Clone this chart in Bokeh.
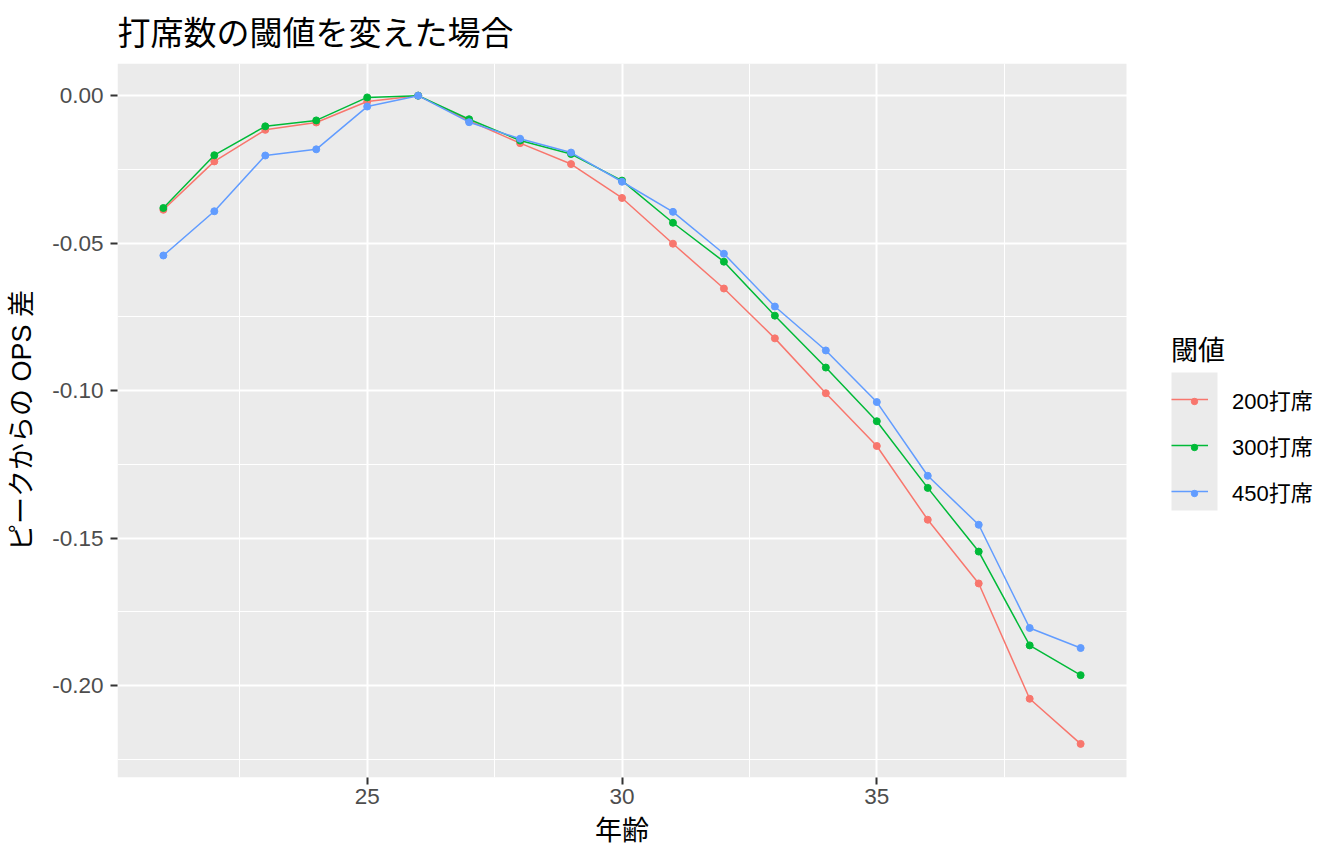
from bokeh.plotting import figure
from bokeh.models import (Range1d, FixedTicker, Legend, LegendItem, BoxAnnotation, Title)
from bokeh.embed import file_html
from bokeh.resources import INLINE

ages = list(range(21, 40))
pa200 = [-0.0387, -0.0223, -0.0116, -0.0091, -0.0020, 0.0, -0.0085, -0.0161, -0.0232, -0.0347,
         -0.0502, -0.0654, -0.0823, -0.1009, -0.1188, -0.1438, -0.1654, -0.2045, -0.2198]
pa300 = [-0.0381, -0.0202, -0.0104, -0.0084, -0.0006, 0.0, -0.0080, -0.0152, -0.0198, -0.0288,
         -0.0431, -0.0563, -0.0746, -0.0922, -0.1104, -0.1330, -0.1546, -0.1864, -0.1965]
pa450 = [-0.0542, -0.0392, -0.0203, -0.0182, -0.0037, 0.0, -0.0090, -0.0146, -0.0193, -0.0292,
         -0.0394, -0.0536, -0.0715, -0.0864, -0.1039, -0.1289, -0.1455, -0.1805, -0.1873]
series_labels = ["200打席", "300打席", "450打席"]
series_colors = ["#F8766D", "#00BA38", "#619CFF"]

x_ticks = [25, 30, 35]
x_minor = [22.5, 27.5, 32.5, 37.5]
y_ticks = [0.0, -0.05, -0.10, -0.15, -0.20]
y_tick_labels = ["0.00", "-0.05", "-0.10", "-0.15", "-0.20"]
y_minor = [-0.025, -0.075, -0.125, -0.175, -0.225]

title_text = "打席数の閾値を変えた場合"
x_label = "年齢"
y_label = "ピークからの OPS 差"
legend_title = "閾値"

JP = "Noto Sans CJK JP"
MIX = "Liberation Sans, Noto Sans CJK JP"

# layout (pixels)
W, H = 1328, 860
LEFT, TOP = 117, 62
PANEL_W, PANEL_H = 1009, 715
RIGHT = 10
FRAME_BOTTOM = TOP + PANEL_H
BOTTOM = H - FRAME_BOTTOM

# panel data extent (ggplot-like 5% expansion)
x0, x1 = 20.1, 39.9
y0, y1 = -0.2312, 0.0109
frame_w = W - LEFT - RIGHT
x_end = x0 + frame_w * (x1 - x0) / PANEL_W

p = figure(width=W, height=H, output_backend="svg", toolbar_location=None,
           x_range=Range1d(x0, x_end), y_range=Range1d(y0, y1),
           min_border_left=LEFT, min_border_right=RIGHT, min_border_top=TOP,
           min_border_bottom=BOTTOM)

p.background_fill_color = "white"
p.border_fill_color = "white"
p.outline_line_color = None

# grey panel background
p.add_layout(BoxAnnotation(left=x0, right=x1, fill_color="#EBEBEB", fill_alpha=1,
                           line_color=None, level="image"))

p.title.text = title_text
p.title.text_font = JP
p.title.text_font_size = "33px"
p.title.text_font_style = "normal"
p.title.text_color = "black"
p.title.align = "left"
p.title.vertical_align = "top"
p.title.standoff = 13

p.xaxis.ticker = FixedTicker(ticks=x_ticks, minor_ticks=x_minor)
p.yaxis.ticker = FixedTicker(ticks=y_ticks, minor_ticks=y_minor)
p.yaxis.major_label_overrides = {t: s for t, s in zip(y_ticks, y_tick_labels)}
p.xaxis.bounds = (x0, x1)

for ax in (p.xaxis[0], p.yaxis[0]):
    ax.axis_line_color = None
    ax.major_tick_line_color = "#333333"
    ax.major_tick_line_width = 2
    ax.major_tick_out = 7
    ax.major_tick_in = 0
    ax.minor_tick_line_color = None
    ax.major_label_text_font = "Liberation Sans"
    ax.major_label_text_font_size = "22.5px"
    ax.major_label_text_color = "#4D4D4D"
    ax.axis_label_text_font = MIX
    ax.axis_label_text_font_size = "27px"
    ax.axis_label_text_font_style = "normal"
    ax.axis_label_text_color = "black"

p.yaxis.axis_label = y_label
p.xaxis.major_label_standoff = 4
p.yaxis.major_label_standoff = 7
p.yaxis.axis_label_standoff = 12

# x-axis title centred under the panel (not under the wider frame)
xl_font_px = 27
xl_offset = (PANEL_W / 2) - len(x_label) * xl_font_px / 2
p.add_layout(Title(text=x_label, align="left", offset=xl_offset, text_font=JP,
                   text_font_size=f"{xl_font_px}px", text_font_style="normal",
                   text_color="black", vertical_align="top", standoff=5), "below")

for g in (p.xgrid[0], p.ygrid[0]):
    g.grid_line_color = "white"
    g.grid_line_width = 2
    g.minor_grid_line_color = "white"
    g.minor_grid_line_width = 1
p.ygrid.bounds = (x0, x1)

# grey legend key background
p.add_layout(BoxAnnotation(left=1171, right=1217, top=372, bottom=510,
                           left_units="canvas", right_units="canvas",
                           top_units="canvas", bottom_units="canvas",
                           fill_color="#EBEBEB", fill_alpha=1, line_color=None,
                           level="underlay"))

line_items = []
dot_items = []
for vals, lab, col in zip([pa200, pa300, pa450], series_labels, series_colors):
    l = p.line(ages, vals, line_color=col, line_width=1.5)
    s = p.scatter(ages, vals, size=7, fill_color=col, line_color=col)
    line_items.append(LegendItem(label=lab, renderers=[l]))
    dot_items.append(LegendItem(label=" ", renderers=[s]))

legend = Legend(items=line_items, location=(1171 - LEFT, FRAME_BOTTOM - 514))
legend.title = legend_title
legend.title_text_font = JP
legend.title_text_font_size = "27px"
legend.title_text_font_style = "normal"
legend.title_text_color = "black"
legend.title_standoff = 8
legend.label_text_font = MIX
legend.label_text_font_size = "22px"
legend.label_text_color = "black"
legend.glyph_width = 37
legend.glyph_height = 46
legend.label_height = 46
legend.label_standoff = 24
legend.spacing = 0
legend.padding = 4
legend.margin = 0
legend.background_fill_alpha = 0
legend.border_line_color = None
p.add_layout(legend, "center")

# small key markers (second legend, no text)
DOT = 16
dots = Legend(items=dot_items, location=(1194 - DOT / 2 - LEFT, FRAME_BOTTOM - (487 + DOT / 2) - 6))
dots.glyph_width = DOT
dots.glyph_height = DOT
dots.label_height = DOT
dots.label_text_font_size = "1px"
dots.label_standoff = 0
dots.spacing = 46 - DOT
dots.padding = 0
dots.margin = 0
dots.background_fill_alpha = 0
dots.border_line_color = None
p.add_layout(dots, "center")

open("out.html", "w").write(file_html(p, INLINE))
